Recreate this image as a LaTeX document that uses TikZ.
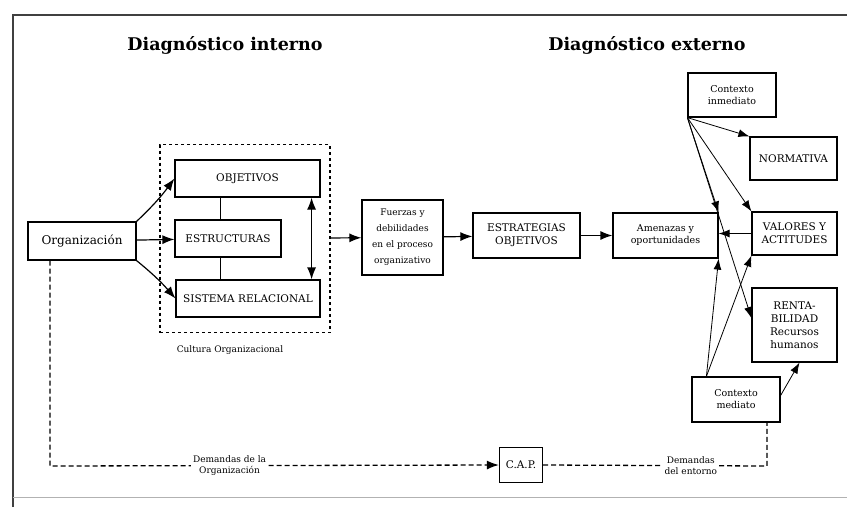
\documentclass[tikz,border=0pt]{standalone}
\usepackage{fontspec}
\setmainfont{DejaVu Serif}
\usepackage{tikz}
\usetikzlibrary{arrows.meta}

\begin{document}
\begin{tikzpicture}[x=1pt, y=-1pt,
        box/.style={rectangle, draw, line width=1.2pt, align=center, inner sep=1pt, font=\fontsize{10.5}{13}\selectfont},
        small/.style={box, font=\fontsize{9.5}{12}\selectfont},
        title/.style={font=\fontsize{17.5}{20}\selectfont\bfseries},
        note/.style={font=\fontsize{9}{11}\selectfont, align=center, inner sep=2pt},
        arrow/.style={-{Latex[length=12pt, width=9pt]}, line width=1.2pt},
        twoway/.style={{Latex[length=12pt, width=9pt]}-{Latex[length=12pt, width=9pt]}, line width=1.2pt},
        link/.style={-{Latex[length=11pt, width=8pt]}, line width=0.8pt},
        demand/.style={dash pattern=on 5pt off 3pt, line width=1.3pt}
    ]
    \useasboundingbox (0,0) rectangle (847,507);

    % marco
    \draw[line width=2pt, black!75] (13,507) -- (13,15) -- (847,15);
    \draw[line width=0.6pt, black!30] (13,497) -- (847,497);

    % titulos
    \node[title] (tint) at (225,45) {Diagnóstico interno};
    \node[title] (dext) at (647,45) {Diagnóstico externo};

    % diagnostico interno
    \node[box, font=\fontsize{12}{14}\selectfont, minimum width=108pt, minimum height=38pt] (org) at (82,241) {Organización};
    \node[rectangle, draw, dashed, line width=1.1pt, minimum width=170pt, minimum height=188pt] (cult) at (245,238.5) {};
    \node[note] (cultlbl) at (230,350) {Cultura Organizacional};
    \node[box, minimum width=145pt, minimum height=37pt] (obj) at (247.5,178.5) {OBJETIVOS};
    \node[box, minimum width=106pt, minimum height=37pt] (est) at (228,238.5) {ESTRUCTURAS};
    \node[box, minimum width=144pt, minimum height=37pt] (sis) at (248,298.5) {SISTEMA RELACIONAL};
    \node[small, font=\fontsize{9}{16}\selectfont, minimum width=81pt, minimum height=75pt] (fuer) at (402.5,237.5) {Fuerzas y\\debilidades\\en el proceso\\organizativo};
    \node[box, minimum width=107pt, minimum height=45pt] (estr) at (526.5,235.5) {ESTRATEGIAS\\OBJETIVOS};
    \node[small, minimum width=105pt, minimum height=45pt] (amen) at (665.5,235.5) {Amenazas y\\oportunidades};

    % diagnostico externo
    \node[small, font=\fontsize{9.5}{12}\selectfont, minimum width=88pt, minimum height=44pt] (ci) at (732,95) {Contexto\\inmediato};
    \node[box, minimum width=87pt, minimum height=43pt] (norm) at (793.5,158.5) {NORMATIVA};
    \node[box, minimum width=85pt, minimum height=43pt] (val) at (794.5,233.5) {VALORES Y\\ACTITUDES};
    \node[box, minimum width=85pt, minimum height=74pt] (rent) at (794.5,325) {RENTA-\\BILIDAD\\Recursos\\humanos};
    \node[small, font=\fontsize{9.5}{12}\selectfont, minimum width=88pt, minimum height=45pt] (cm) at (736,399.5) {Contexto\\mediato};
    \node[box, minimum width=43pt, minimum height=35pt] (cap) at (521,465) {C.A.P.};

    % conexiones internas
    \draw[arrow] (org.north east) to[bend right=5] (obj.west);
    \draw[arrow] (org) -- (est);
    \draw[arrow] (org.south east) to[bend left=5] (sis.west);
    \draw[line width=0.9pt] ([xshift=-8pt]est.north) -- ([xshift=-8pt]est.north |- obj.south);
    \draw[line width=0.9pt] ([xshift=-8pt]est.south) -- ([xshift=-8pt]est.south |- sis.north);
    \draw[twoway] ([xshift=-9pt]obj.south east) -- ([xshift=-9pt]obj.south east |- sis.north);
    \draw[arrow] (cult) -- (fuer);
    \draw[arrow] (fuer) -- (estr);
    \draw[arrow] (estr) -- (amen);

    % conexiones externas
    \draw[link] (ci.south west) -- (norm.north west);
    \draw[link] (ci.south west) -- (val.north west);
    \draw[link] (ci.south west) -- (amen.north east);
    \draw[link] (ci.south west) -- ([yshift=7pt]rent.west);
    \draw[link] (val.west) -- (val.west -| amen.east);
    \draw[link] ([xshift=15pt]cm.north west) -- (val.south west);
    \draw[link] ([xshift=15pt]cm.north west) -- (amen.south east);
    \draw[link] ([yshift=4pt]cm.east) -- ([xshift=5pt]rent.south);

    % demandas
    \coordinate (dl) at (50,466);
    \coordinate (dr) at (767,466);
    \draw[demand, -{Latex[length=12pt, width=9pt]}] (org.south -| dl) -- (dl) -- node[note, pos=0.4, fill=white] (dorg) {Demandas de la\\Organización} (cap.west);
    \draw[demand] (cap.east) -- node[note, pos=0.66, fill=white] (dent) {Demandas\\del entorno} (dr) -- (dr |- cm.south);

\end{tikzpicture}
\end{document}
